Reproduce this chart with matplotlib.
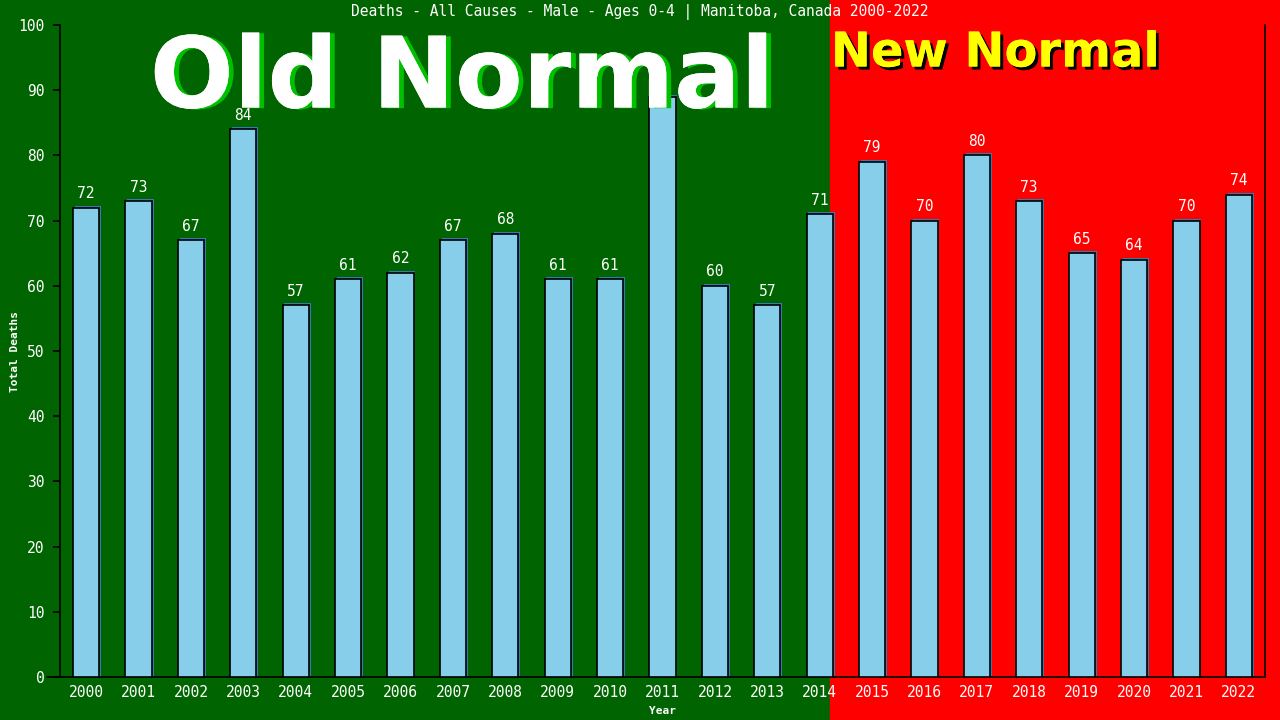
import matplotlib
matplotlib.use("Agg")
import matplotlib.pyplot as plt
from matplotlib.patches import Rectangle
import matplotlib.patheffects as pe

years = [str(y) for y in range(2000, 2023)]
deaths = [72, 73, 67, 84, 57, 61, 62, 67, 68, 61, 61, 89, 60, 57, 71,
          79, 70, 80, 73, 65, 64, 70, 74]
title = "Deaths - All Causes - Male - Ages 0-4 | Manitoba, Canada 2000-2022"

mono = "DejaVu Sans Mono"

fig = plt.figure(figsize=(12.8, 7.2), dpi=100)
# old / new normal backgrounds
split = 830 / 1280
fig.patches.append(Rectangle((0, 0), split, 1, transform=fig.transFigure,
                             color="#006400", zorder=-10))
fig.patches.append(Rectangle((split, 0), 1 - split, 1, transform=fig.transFigure,
                             color="#ff0000", zorder=-10))

ax = fig.add_axes([60 / 1280, 43 / 720, 1205 / 1280, 652 / 720])
ax.set_facecolor("none")

xs = list(range(len(years)))
# little blue shadow behind each bar
ax.bar([x + 0.035 for x in xs], [d + 0.3 for d in deaths], width=0.5,
       color="#3a78b0", zorder=2)
ax.bar(xs, deaths, width=0.5, color="#87ceeb", edgecolor="black",
       linewidth=1.2, zorder=3)

for x, d in zip(xs, deaths):
    ax.text(x, d + 1.0, str(d), ha="center", va="bottom", color="white",
            fontsize=10.5, family=mono, zorder=4)

ax.set_xlim(-0.5, len(years) - 0.5)
ax.set_ylim(0, 100)
ax.set_yticks(range(0, 101, 10))
ax.set_xticks(xs)
ax.set_xticklabels(years)
ax.tick_params(axis="y", colors="black", labelcolor="white", length=5,
               width=1.2, labelsize=10.5, pad=6)
ax.tick_params(axis="x", length=0, labelcolor="white", labelsize=10.5, pad=6)
for lab in ax.get_xticklabels() + ax.get_yticklabels():
    lab.set_family(mono)

for s in ["left", "bottom", "right"]:
    ax.spines[s].set_color("black")
    ax.spines[s].set_linewidth(1.2)
ax.spines["top"].set_visible(False)
ax.spines["bottom"].set_bounds(-0.75, len(years) - 0.5)

ax.set_ylabel("Total Deaths", color="white", fontsize=8, family=mono,
              fontweight="bold")
ax.yaxis.set_label_coords(-40 / 1205, 0.5)
ax.set_xlabel("Year", color="white", fontsize=8, family=mono,
              fontweight="bold", labelpad=4)

fig.text(0.5, 1 - 12 / 720, title, ha="center", va="center", color="white",
         fontsize=10.5, family=mono)

fig.text(462 / 1280, 1 - 80 / 720, "Old Normal", ha="center", va="center",
         color="white", fontsize=71, fontweight="bold", family="DejaVu Sans",
         path_effects=[pe.withSimplePatchShadow(offset=(3.5, -0.5),
                                                shadow_rgbFace="#00c000",
                                                alpha=1.0),
                       pe.Normal()])
fig.text(995 / 1280, 1 - 53 / 720, "New Normal", ha="center", va="center",
         color="#ffff00", fontsize=34.5, fontweight="bold", family="DejaVu Sans",
         path_effects=[pe.withSimplePatchShadow(offset=(2.2, -2.2),
                                                shadow_rgbFace="black",
                                                alpha=1.0),
                       pe.Normal()])

fig.savefig("out.png", dpi=100)
